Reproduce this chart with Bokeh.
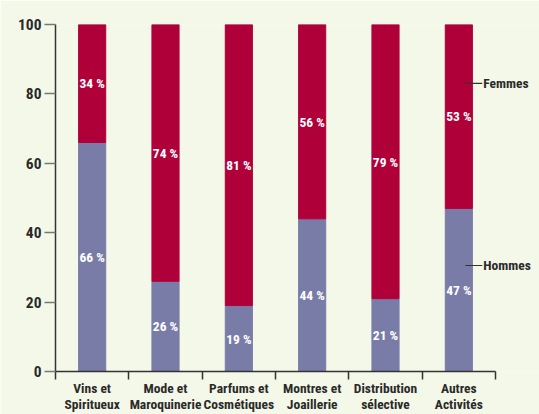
from bokeh.plotting import figure
from bokeh.models import Range1d, FixedTicker, ColumnDataSource, Label
from bokeh.core.properties import value
from bokeh.embed import file_html
from bokeh.resources import INLINE

categories = ["Vins et\nSpiritueux", "Mode et\nMaroquinerie", "Parfums et\nCosmétiques",
              "Montres et\nJoaillerie", "Distribution\nsélective", "Autres\nActivités"]
hommes = [66, 26, 19, 44, 21, 47]
femmes = [34, 74, 81, 56, 79, 53]
y_ticks = [0, 20, 40, 60, 80, 100]
series_names = ["Femmes", "Hommes"]

BG = "#F4F8E8"
RED = "#B0003A"
BLUE = "#7A7CA8"
DARK = "#2a2a2a"
FONT = "Roboto Condensed"

n = len(categories)
xs = [i + 0.5 for i in range(n)]

src = ColumnDataSource(dict(
    x=xs, h=hommes, f=femmes,
    ftop=[a + b for a, b in zip(hommes, femmes)],
    hlab=[f"{v} %" for v in hommes], flab=[f"{v} %" for v in femmes],
    hmid=[v / 2 for v in hommes], fmid=[a + b / 2 for a, b in zip(hommes, femmes)],
))

# frame extends past the last category so the side annotations are not clipped;
# the axis line itself is bounded to the categories
p = figure(width=539, height=414, output_backend="svg", toolbar_location=None,
           x_range=Range1d(0, n * 1.1), y_range=Range1d(0, 100),
           min_border_left=55, min_border_right=0, min_border_top=24, min_border_bottom=41)
p.background_fill_color = BG
p.border_fill_color = BG
p.outline_line_color = None
p.grid.visible = False

bw = 0.37
p.vbar(x="x", bottom=0, top="h", width=bw, color=BLUE, source=src)
p.vbar(x="x", bottom="h", top="ftop", width=bw, color=RED, source=src)

p.text(x="x", y="hmid", text="hlab", source=src, text_color="white", text_font=value(FONT),
       text_font_style="bold", text_font_size="13.5px", text_align="center", text_baseline="middle")
p.text(x="x", y="fmid", text="flab", source=src, text_color="white", text_font=value(FONT),
       text_font_style="bold", text_font_size="13.5px", text_align="center", text_baseline="middle")

# series annotations on the last bar
last = n - 1
ann_y = [hommes[last] + femmes[last] * 0.68, hommes[last] * 0.65]
x0 = xs[last] + 0.09
x1 = xs[last] + 0.32
p.segment(x0=[x0, x0], y0=ann_y, x1=[x1, x1], y1=ann_y, line_color="#333333", line_width=1.2)
for name, yv in zip(series_names, ann_y):
    p.add_layout(Label(x=x1, y=yv, text=name, text_color=DARK, text_font=FONT,
                       text_font_style="bold", text_font_size="13.5px",
                       text_align="left", text_baseline="alphabetic", x_offset=1))

# y axis
ya = p.yaxis[0]
ya.ticker = FixedTicker(ticks=y_ticks)
ya.axis_line_color = "#333333"
ya.axis_line_width = 1.5
ya.major_tick_line_color = "#777777"
ya.major_tick_line_width = 1.5
ya.major_tick_in = 0
ya.major_tick_out = 11
ya.minor_tick_line_color = None
ya.major_label_standoff = 3
ya.major_label_text_font = FONT
ya.major_label_text_font_style = "bold"
ya.major_label_text_font_size = "15.5px"
ya.major_label_text_color = DARK

# x axis: labels at centres, ticks at category boundaries
xa = p.xaxis[0]
xa.bounds = (0, n)
xa.ticker = FixedTicker(ticks=xs, minor_ticks=list(range(n + 1)))
xa.major_label_overrides = {x: c for x, c in zip(xs, categories)}
xa.axis_line_color = "#333333"
xa.axis_line_width = 1.5
xa.major_tick_line_color = None
xa.major_tick_in = 0
xa.major_tick_out = 0
xa.minor_tick_line_color = "#333333"
xa.minor_tick_line_width = 1.5
xa.minor_tick_in = 0
xa.minor_tick_out = 8
xa.major_label_standoff = 0
xa.major_label_text_font = FONT
xa.major_label_text_font_style = "bold"
xa.major_label_text_font_size = "13.5px"
xa.major_label_text_color = DARK
xa.major_label_text_line_height = 1.0

html = file_html(p, INLINE)
html = html.replace("<body>", f'<body style="background:{BG}; margin:0">', 1)
open("out.html", "w").write(html)
